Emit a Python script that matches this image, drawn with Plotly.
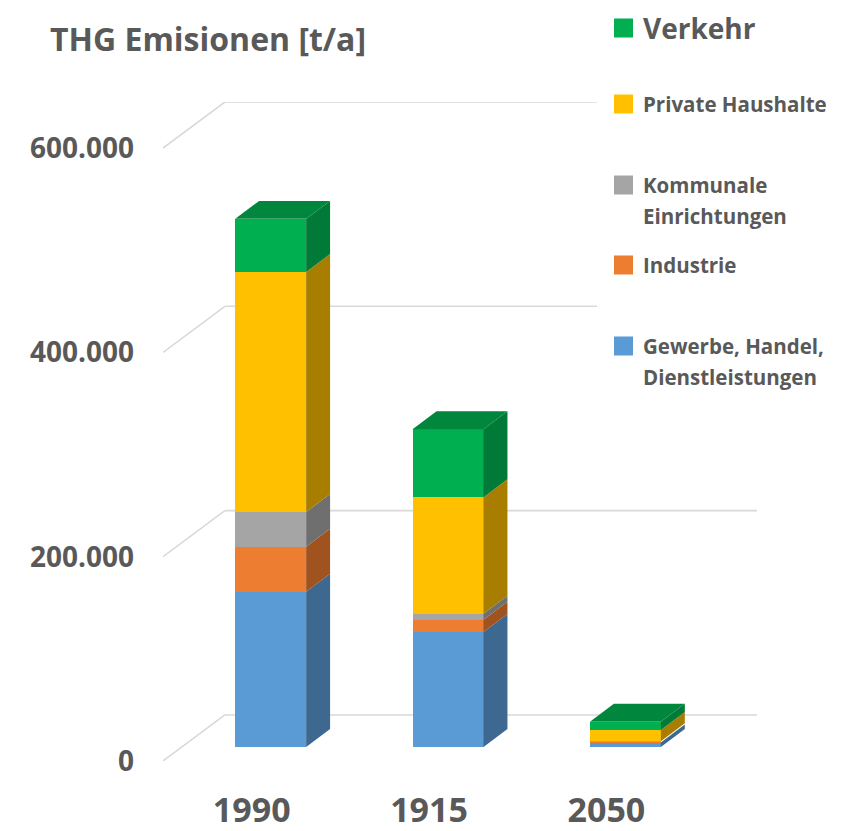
import plotly.graph_objects as go

# ---------------- data ----------------
categories = ["1990", "1915", "2050"]
series_names = ["Gewerbe, Handel,<br>Dienstleistungen", "Industrie",
                "Kommunale<br>Einrichtungen", "Private Haushalte", "Verkehr"]
gewerbe = [152000, 112500, 4500]
industrie = [44000, 12000, 800]
kommunale = [34000, 6000, 400]
private_haushalte = [235000, 114000, 11000]
verkehr = [52000, 66500, 8000]
y_tickvals = [0, 200000, 400000, 600000]
y_ticktext = ["0", "200.000", "400.000", "600.000"]
title_text = "THG Emisionen [t/a]"

series_values = [gewerbe, industrie, kommunale, private_haushalte, verkehr]
front_colors = ["#5B9BD5", "#ED7D31", "#A5A5A5", "#FFC000", "#00B050"]
side_colors = ["#3D6890", "#A0531F", "#6F6F6F", "#A77E00", "#007A36"]
top_colors = ["#4A7FB0", "#C86828", "#8C8C8C", "#D9A300", "#00873D"]

# ---------------- 3D oblique geometry (axis units) ----------------
BAR_W = 0.40          # bar width in category units
FRONT_DX = 0.107      # front plane -> bar front face
FRONT_DV = 13700
DEPTH_DX = 0.135      # bar depth
DEPTH_DV = 17600
WALL_DX = 0.349       # front plane -> back wall
WALL_DV = 45100
X_MIN, X_MAX = -0.5, 2.5

GRID = "#D9D9D9"
TXT = "#595959"
FONT = "Open Sans"

# page offset of the figure inside the html body (default body margin)
OFF = 8

fig = go.Figure()

n = len(categories)
cum = [0.0] * n
bottoms = []
for vals in series_values:
    bottoms.append(list(cum))
    cum = [c + v for c, v in zip(cum, vals)]
totals = cum

# side faces
for s, vals in enumerate(series_values):
    xs, ys = [], []
    for i in range(n):
        xr = i + FRONT_DX + BAR_W / 2
        v0 = bottoms[s][i] + FRONT_DV
        v1 = v0 + vals[i]
        xs += [xr, xr + DEPTH_DX, xr + DEPTH_DX, xr, xr, None]
        ys += [v0, v0 + DEPTH_DV, v1 + DEPTH_DV, v1, v0, None]
    fig.add_trace(go.Scatter(x=xs, y=ys, fill="toself", fillcolor=side_colors[s],
                             mode="lines", line=dict(width=0, color=side_colors[s]),
                             hoverinfo="skip", showlegend=False))

# front faces
for s, vals in enumerate(series_values):
    fig.add_trace(go.Bar(
        x=[i + FRONT_DX for i in range(n)], y=vals,
        base=[b + FRONT_DV for b in bottoms[s]], width=BAR_W,
        marker=dict(color=front_colors[s], line=dict(width=0)),
        name=series_names[s].replace("<br>", " "), showlegend=False))

# top faces (colour of the topmost non-zero series)
for i in range(n):
    top_s = max(s for s in range(len(series_values)) if series_values[s][i] > 0)
    xl = i + FRONT_DX - BAR_W / 2
    xr = i + FRONT_DX + BAR_W / 2
    T = totals[i] + FRONT_DV
    fig.add_trace(go.Scatter(
        x=[xl, xl + DEPTH_DX, xr + DEPTH_DX, xr, xl],
        y=[T, T + DEPTH_DV, T + DEPTH_DV, T, T],
        fill="toself", fillcolor=top_colors[top_s], mode="lines",
        line=dict(width=0, color=top_colors[top_s]), hoverinfo="skip", showlegend=False))

# ---------------- layout ----------------
W, H = 848, 831
ML, MR, MT, MB = 163 - OFF, 91 + OFF, 102 - OFF, 70 + OFF

fig.update_layout(
    width=W, height=H,
    margin=dict(l=ML, r=MR, t=MT, b=MB, autoexpand=False),
    paper_bgcolor="white", plot_bgcolor="white",
    barmode="overlay", bargap=0,
    showlegend=False,
    title=dict(text=title_text, x=(50 - OFF) / W, xanchor="left", xref="container",
               y=1 - (40 - OFF) / H, yanchor="middle", yref="container",
               font=dict(family=FONT, size=32, color=TXT, weight="bold")),
    xaxis=dict(range=[X_MIN, X_MAX + WALL_DX], showgrid=False, zeroline=False,
               showline=False, tickmode="array", tickvals=list(range(n)),
               ticktext=categories, ticks="", ticklabelstandoff=26, automargin=False,
               tickfont=dict(family=FONT, size=34, color=TXT, weight="bold"),
               fixedrange=True),
    yaxis=dict(range=[0, y_tickvals[-1] + WALL_DV], showgrid=False, zeroline=False,
               showline=False, tickmode="array", tickvals=y_tickvals,
               ticktext=y_ticktext, ticks="", ticklabelstandoff=28, automargin=False,
               tickfont=dict(family=FONT, size=28, color=TXT, weight="bold"),
               fixedrange=True),
)

plot_w = W - ML - MR
plot_h = H - MT - MB


def px_x(px):
    return (px - OFF - ML) / plot_w


def px_y(py):
    return (H - MB - (py - OFF)) / plot_h


shapes = []
# back wall gridlines + left-wall diagonals (below the bars)
for t in y_tickvals:
    shapes.append(dict(type="line", xref="x", yref="y", x0=X_MIN, y0=t,
                       x1=X_MIN + WALL_DX, y1=t + WALL_DV,
                       line=dict(color=GRID, width=1.6), layer="below"))
    shapes.append(dict(type="line", xref="x", yref="y", x0=X_MIN + WALL_DX, y0=t + WALL_DV,
                       x1=X_MAX + WALL_DX, y1=t + WALL_DV,
                       line=dict(color=GRID, width=1.6), layer="below"))

# white legend box hiding upper gridlines
shapes.append(dict(type="rect", xref="paper", yref="paper", x0=px_x(597), x1=px_x(W + 20),
                   y0=px_y(420), y1=px_y(-20), fillcolor="white", line=dict(width=0),
                   layer="above"))

legend_rows = [  # (series index, y centre of first line in px, font size)
    (4, 28, 28),
    (3, 104, 20.5),
    (2, 185, 20.5),
    (1, 265, 20.5),
    (0, 346, 20.5),
]
annotations = []
for s, yc, fs in legend_rows:
    shapes.append(dict(type="rect", xref="paper", yref="paper",
                       x0=px_x(614), x1=px_x(633), y0=px_y(yc + 9.5), y1=px_y(yc - 9.5),
                       fillcolor=front_colors[s], line=dict(width=0), layer="above"))
    for k, line in enumerate(series_names[s].split("<br>")):
        annotations.append(dict(text=line, xref="paper", yref="paper",
                                x=px_x(641), y=px_y(yc + 31 * k),
                                xanchor="left", yanchor="middle", showarrow=False,
                                font=dict(family=FONT, size=fs, color=TXT, weight="bold")))

fig.update_layout(shapes=shapes, annotations=annotations)

fig.write_html("out.html")
